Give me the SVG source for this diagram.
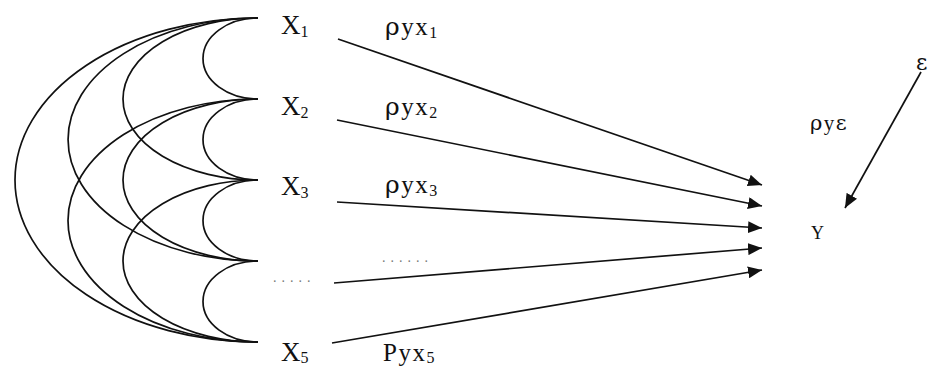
<svg xmlns="http://www.w3.org/2000/svg" width="928" height="368" viewBox="0 0 928 368">
<style>
.arc{fill:none;stroke:#111;stroke-width:1.7}
.con{fill:none;stroke:#111;stroke-width:1.7}
.lbl{font-family:"Liberation Serif","Times New Roman",serif;fill:#111}
.gr{font-family:"DejaVu Serif","Liberation Serif",serif}
.node{font-size:27px}
.coef{font-size:25px;letter-spacing:1.5px}
.sub{font-size:16px;letter-spacing:0}
.dots{font-family:"Liberation Serif",serif;font-size:14px;fill:#777}
</style>
<defs>
<marker id="ah" markerUnits="userSpaceOnUse" markerWidth="16" markerHeight="12" refX="14" refY="6" orient="auto">
<path d="M0,0 L14,6 L0,12 Z" fill="#111"/>
</marker>
</defs>
<g id="correlations">
<path class="arc" d="M258,18 A55,40.5 0 0 0 258,99"/>
<path class="arc" d="M258,99 A55,40.5 0 0 0 258,180"/>
<path class="arc" d="M258,180 A55,40.5 0 0 0 258,261"/>
<path class="arc" d="M258,261 A55,40.5 0 0 0 258,342"/>
<path class="arc" d="M258,18 A135,81 0 0 0 258,180"/>
<path class="arc" d="M258,99 A135,81 0 0 0 258,261"/>
<path class="arc" d="M258,180 A135,81 0 0 0 258,342"/>
<path class="arc" d="M258,18 A190,121.5 0 0 0 258,261"/>
<path class="arc" d="M258,99 A190,121.5 0 0 0 258,342"/>
<path class="arc" d="M258,18 A243,162 0 0 0 258,342"/>
</g>
<g id="connectors">
<path class="con" d="M338,39 L762,185" marker-end="url(#ah)"/>
<path class="con" d="M337,120 L762,206" marker-end="url(#ah)"/>
<path class="con" d="M337,202 L762,228" marker-end="url(#ah)"/>
<path class="con" d="M334,283 L762,248" marker-end="url(#ah)"/>
<path class="con" d="M332,343 L762,270" marker-end="url(#ah)"/>
<path class="con" d="M921,72 L845,208" marker-end="url(#ah)"/>
</g>
<g id="x1"><text class="lbl node" x="281" y="34">X<tspan class="sub" dy="3">1</tspan></text></g>
<g id="x2"><text class="lbl node" x="281" y="115">X<tspan class="sub" dy="3">2</tspan></text></g>
<g id="x3"><text class="lbl node" x="281" y="195">X<tspan class="sub" dy="3">3</tspan></text></g>
<g id="x4"><text class="dots" x="273" y="282" letter-spacing="5">.....</text></g>
<g id="x5"><text class="lbl node" x="281" y="361">X<tspan class="sub" dy="2">5</tspan></text></g>
<g id="labels">
<text class="lbl coef" x="385" y="35"><tspan class="gr">ρ</tspan>yx<tspan class="sub" dy="3">1</tspan></text>
<text class="lbl coef" x="385" y="115"><tspan class="gr">ρ</tspan>yx<tspan class="sub" dy="3">2</tspan></text>
<text class="lbl coef" x="385" y="193"><tspan class="gr">ρ</tspan>yx<tspan class="sub" dy="3">3</tspan></text>
<text class="dots" x="382" y="262" letter-spacing="5">......</text>
<text class="lbl coef" x="383" y="361">Pyx<tspan class="sub" dy="2">5</tspan></text>
<text class="lbl" style="font-size:21px;letter-spacing:1.5px" x="810" y="130"><tspan class="gr">ρ</tspan>y<tspan class="gr">ε</tspan></text>
</g>
<g id="y"><text class="lbl" style="font-size:18px" x="811" y="239">Y</text></g>
<g id="e"><text class="lbl gr" style="font-size:22px" x="916" y="70">ε</text></g>
</svg>
